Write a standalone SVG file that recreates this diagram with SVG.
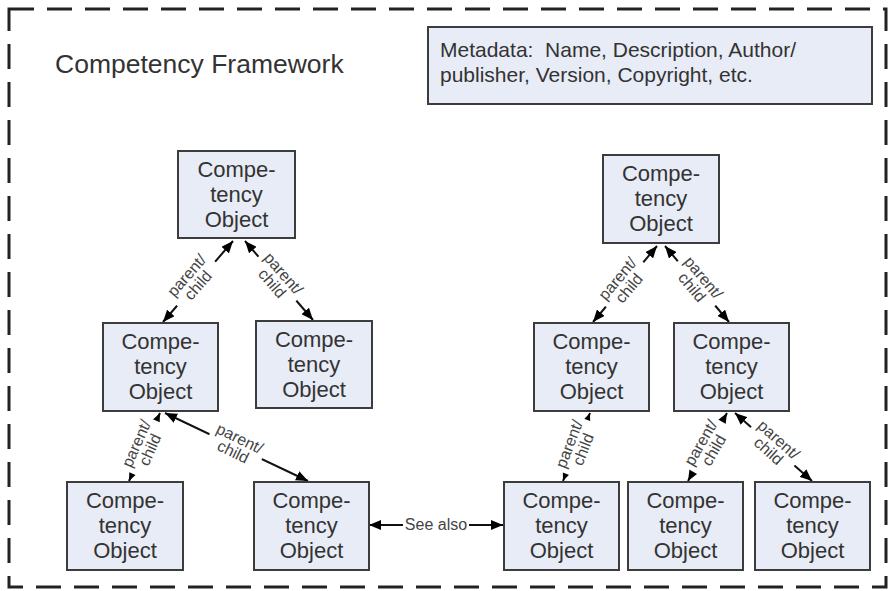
<svg xmlns="http://www.w3.org/2000/svg" width="894" height="591" viewBox="0 0 894 591">
<style>
.node rect{fill:#E8ECF6;stroke:#3C3C3C;stroke-width:2}
.node text{font-family:"Liberation Sans",Arial,sans-serif;font-size:22px;fill:#333;text-anchor:middle}
.conn path{stroke:#111;stroke-width:2;fill:none;marker-start:url(#ah);marker-end:url(#ah)}
.lbl rect{fill:#fff}
.lbl text{font-family:"Liberation Sans",Arial,sans-serif;font-size:16px;fill:#444;text-anchor:middle}
</style>
<defs>
<marker id="ah" viewBox="0 0 12 10" refX="12" refY="5" markerWidth="12" markerHeight="10" markerUnits="userSpaceOnUse" orient="auto-start-reverse">
<path d="M0,0 L12,5 L0,10 z" fill="#000"/>
</marker>
</defs>
<rect x="0" y="0" width="894" height="591" fill="#fff"/>
<rect id="frame" x="9" y="9" width="877" height="578" fill="#fff" stroke="#222" stroke-width="3" stroke-dasharray="25 13"/>
<text id="title" x="55" y="73" font-family="Liberation Sans, Arial, sans-serif" font-size="26.5" fill="#333">Competency Framework</text>
<g id="metadata" class="node">
<rect x="428" y="27" width="444" height="77"/>
<text x="440" y="57" style="text-anchor:start;font-size:21px" xml:space="preserve">Metadata:&#160; Name, Description, Author/</text>
<text x="440" y="82" style="text-anchor:start;font-size:21px">publisher, Version, Copyright, etc.</text>
</g>
<g id="connectors">
<g class="conn">
<path d="M163,322 L233,241"/>
<path d="M245,241 L313,320"/>
<path d="M160,413 L129,481"/>
<path d="M165,413 L308,481"/>
<path d="M369,525 L503,525"/>
<path d="M657,246 L593,322"/>
<path d="M665,246 L729,322"/>
<path d="M590,413 L563,481"/>
<path d="M727,413 L688,481"/>
<path d="M735,413 L812,481"/>
</g>
<g class="lbl" transform="translate(193,281) rotate(-49)"><rect x="-29" y="-18" width="58" height="34"/><text y="-3">parent/</text><text y="12">child</text></g>
<g class="lbl" transform="translate(277,279) rotate(49)"><rect x="-29" y="-18" width="58" height="34"/><text y="-3">parent/</text><text y="12">child</text></g>
<g class="lbl" transform="translate(144,447) rotate(-66)"><rect x="-29" y="-18" width="58" height="34"/><text y="-3">parent/</text><text y="12">child</text></g>
<g class="lbl" transform="translate(236,446) rotate(26)"><rect x="-29" y="-18" width="58" height="34"/><text y="-3">parent/</text><text y="12">child</text></g>
<g class="lbl"><rect x="403" y="515" width="66" height="20"/><text x="436" y="530">See also</text></g>
<g class="lbl" transform="translate(624,284) rotate(-50)"><rect x="-29" y="-18" width="58" height="34"/><text y="-3">parent/</text><text y="12">child</text></g>
<g class="lbl" transform="translate(697,283) rotate(50)"><rect x="-29" y="-18" width="58" height="34"/><text y="-3">parent/</text><text y="12">child</text></g>
<g class="lbl" transform="translate(577,447) rotate(-69)"><rect x="-29" y="-18" width="58" height="34"/><text y="-3">parent/</text><text y="12">child</text></g>
<g class="lbl" transform="translate(708,447) rotate(-60)"><rect x="-29" y="-18" width="58" height="34"/><text y="-3">parent/</text><text y="12">child</text></g>
<g class="lbl" transform="translate(773,446) rotate(42)"><rect x="-29" y="-18" width="58" height="34"/><text y="-3">parent/</text><text y="12">child</text></g>
</g>
<g id="nodeA" class="node"><rect x="178" y="151" width="117" height="87"/><text x="236.5" y="176.5">Compe-</text><text x="236.5" y="201.5">tency</text><text x="236.5" y="226.5">Object</text></g>
<g id="nodeB" class="node"><rect x="103" y="323" width="115" height="88"/><text x="160.5" y="349">Compe-</text><text x="160.5" y="374">tency</text><text x="160.5" y="399">Object</text></g>
<g id="nodeC" class="node"><rect x="256" y="321" width="116" height="87"/><text x="314" y="346.5">Compe-</text><text x="314" y="371.5">tency</text><text x="314" y="396.5">Object</text></g>
<g id="nodeD" class="node"><rect x="67" y="482" width="116" height="88"/><text x="125" y="508">Compe-</text><text x="125" y="533">tency</text><text x="125" y="558">Object</text></g>
<g id="nodeE" class="node"><rect x="254" y="482" width="115" height="88"/><text x="311.5" y="508">Compe-</text><text x="311.5" y="533">tency</text><text x="311.5" y="558">Object</text></g>
<g id="nodeF" class="node"><rect x="603" y="155" width="116" height="88"/><text x="661" y="181">Compe-</text><text x="661" y="206">tency</text><text x="661" y="231">Object</text></g>
<g id="nodeG" class="node"><rect x="534" y="323" width="115" height="88"/><text x="591.5" y="349">Compe-</text><text x="591.5" y="374">tency</text><text x="591.5" y="399">Object</text></g>
<g id="nodeH" class="node"><rect x="674" y="323" width="115" height="88"/><text x="731.5" y="349">Compe-</text><text x="731.5" y="374">tency</text><text x="731.5" y="399">Object</text></g>
<g id="nodeI" class="node"><rect x="504" y="482" width="115" height="88"/><text x="561.5" y="508">Compe-</text><text x="561.5" y="533">tency</text><text x="561.5" y="558">Object</text></g>
<g id="nodeJ" class="node"><rect x="628" y="482" width="115" height="88"/><text x="685.5" y="508">Compe-</text><text x="685.5" y="533">tency</text><text x="685.5" y="558">Object</text></g>
<g id="nodeK" class="node"><rect x="755" y="482" width="115" height="88"/><text x="812.5" y="508">Compe-</text><text x="812.5" y="533">tency</text><text x="812.5" y="558">Object</text></g>
</svg>
